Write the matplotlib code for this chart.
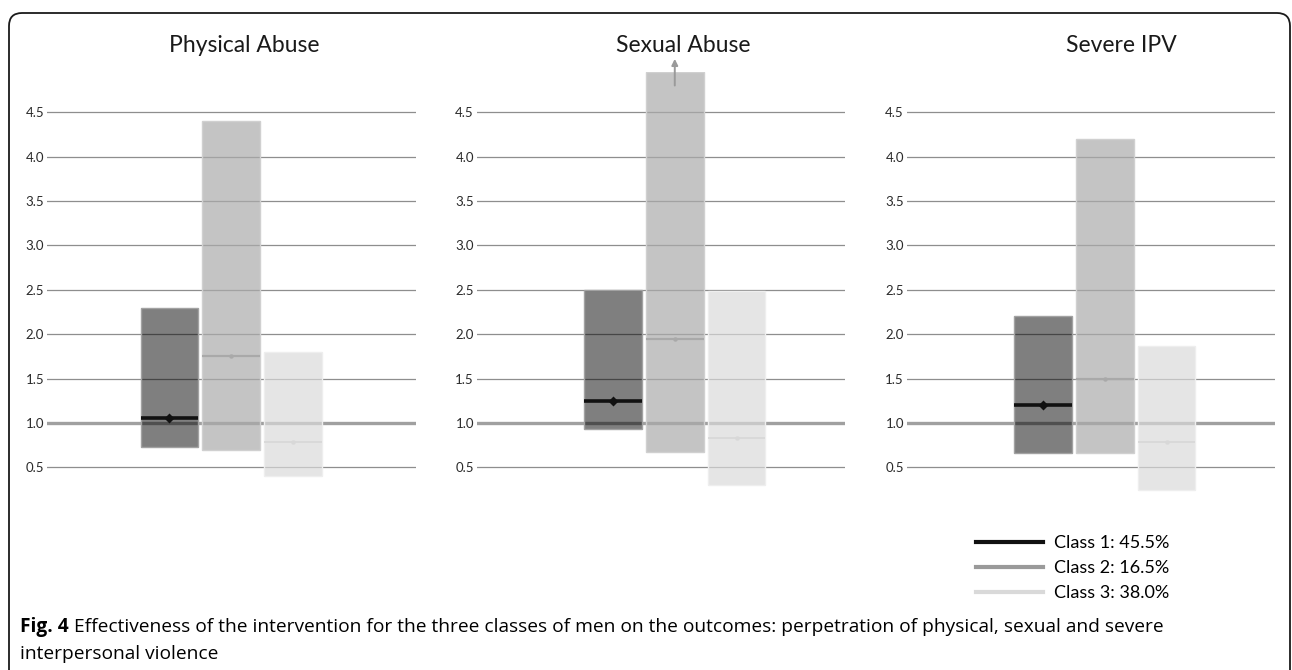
import matplotlib
matplotlib.use("Agg")
import matplotlib.pyplot as plt
from matplotlib.patches import FancyBboxPatch
from matplotlib.lines import Line2D

# ---- data -------------------------------------------------------------
outcomes = ["Physical Abuse", "Sexual Abuse", "Severe IPV"]
class_labels = ["Class 1: 45.5%", "Class 2: 16.5%", "Class 3: 38.0%"]

physical_est = [1.06, 1.75, 0.78]
physical_low = [0.73, 0.70, 0.40]
physical_high = [2.29, 4.40, 1.80]

sexual_est = [1.25, 1.95, 0.83]
sexual_low = [0.93, 0.67, 0.30]
sexual_high = [2.50, 4.95, 2.49]   # class 2 upper bound runs off the scale

severe_est = [1.20, 1.49, 0.78]
severe_low = [0.66, 0.66, 0.25]
severe_high = [2.20, 4.20, 1.87]

y_ticks = [0.5, 1.0, 1.5, 2.0, 2.5, 3.0, 3.5, 4.0, 4.5]
y_tick_labels = ["0.5", "1.0", "1.5", "2.0", "2.5", "3.0", "3.5", "4.0", "4.5"]
reference_value = 1.0

caption_bold = "Fig. 4"
caption_line1 = ("Effectiveness of the intervention for the three classes of men on the "
                 "outcomes: perpetration of physical, sexual and severe")
caption_line2 = "interpersonal violence"

# ---- styling ----------------------------------------------------------
W, H = 1292, 670
DPI = 100
FONT = "Lato"
CAP_FONT = "Open Sans"

bar_faces = [(0, 0, 0, 0.50), (0.67, 0.67, 0.67, 0.70), (0.855, 0.855, 0.855, 0.68)]
bar_edges = ["#a2a2a2", "#d0d0d0", "#eeeeee"]
est_colors = ["#111111", "#a9a9a9", "#d8d8d8"]
est_widths = [2.6, 1.6, 1.3]
est_markers = ["D", "o", "o"]
est_msizes = [5.5, 3.2, 3.2]
legend_colors = ["#111111", "#9a9a9a", "#d9d9d9"]

fig = plt.figure(figsize=(W / DPI, H / DPI), dpi=DPI)

def px_axes(x0, x1, ytop, ybot):
    return fig.add_axes([x0 / W, 1 - ybot / H, (x1 - x0) / W, (ybot - ytop) / H])

panels = [
    (physical_est, physical_low, physical_high, (47, 416), (-1.985, 3.995)),
    (sexual_est, sexual_low, sexual_high, (476.7, 845), (-2.2, 3.75)),
    (severe_est, severe_low, severe_high, (906.7, 1275), (-2.2, 3.75)),
]
title_x = [244, 683, 1121]

bar_w = 0.93
xs = [0, 1, 2]
for i, (est, low, high, (x0, x1), xl) in enumerate(panels):
    ax = px_axes(x0, x1, 72.2, 494)
    ax.set_xlim(*xl)
    ax.set_ylim(0.2, 4.95)
    for s in ax.spines.values():
        s.set_visible(False)
    ax.set_xticks([])
    ax.set_yticks(y_ticks, y_tick_labels)
    ax.tick_params(axis="y", length=0, pad=2, labelsize=9.5, labelcolor="#2a2a2a")
    for lab in ax.get_yticklabels():
        lab.set_fontfamily(FONT)
    ax.set_facecolor("none")
    for t in y_ticks:
        if t == reference_value:
            continue
        ax.axhline(t, color="#8e8e8e", lw=0.9, zorder=0.5)
    ax.axhline(reference_value, color="#a0a0a0", lw=2.4, zorder=1)

    heights = [h - l for h, l in zip(high, low)]
    for k in range(3):
        ax.bar(xs[k], heights[k], bottom=low[k], width=bar_w,
               color=bar_faces[k], edgecolor=bar_edges[k], linewidth=1.0, zorder=2)
        ax.plot([xs[k] - bar_w / 2, xs[k] + bar_w / 2], [est[k], est[k]],
                color=est_colors[k], lw=est_widths[k], solid_capstyle="butt", zorder=3)
        ax.plot(xs[k], est[k], marker=est_markers[k], ms=est_msizes[k],
                color=est_colors[k], mec="none", zorder=4)

    if i == 1:
        # interval extends past the top of the scale
        ax.annotate("", xy=(1, 5.10), xytext=(1, 4.80), annotation_clip=False,
                    arrowprops=dict(arrowstyle="-|>", color="#9a9a9a", lw=1.4,
                                    mutation_scale=9, shrinkA=0, shrinkB=0))

    fig.text(title_x[i] / W, 1 - 45 / H, outcomes[i], ha="center", va="center",
             fontsize=16.5, fontfamily=FONT, color="#1a1a1a")

# ---- legend -----------------------------------------------------------
handles = [Line2D([], [], color=c, lw=3.0) for c in legend_colors]
fig.legend(handles, class_labels, loc="upper left",
           bbox_to_anchor=(976 / W, 1 - 535 / H), frameon=False,
           borderpad=0, borderaxespad=0, handlelength=3.7, handletextpad=0.6,
           labelspacing=0.5, prop={"family": FONT, "size": 13})

# ---- frame around the figure -------------------------------------------
frame = FancyBboxPatch((9 / DPI, -0.4), (1290 - 9) / DPI, (H - 13) / DPI + 0.4,
                       boxstyle="round,pad=0,rounding_size=0.13",
                       transform=fig.dpi_scale_trans, fill=False,
                       edgecolor="#1a1a1a", lw=1.3)
fig.patches.append(frame)

# ---- caption ----------------------------------------------------------
renderer = fig.canvas.get_renderer()
cap_size = 13.8
t_bold = fig.text(20 / W, 1 - 627 / H, caption_bold, ha="left", va="center",
                  fontsize=cap_size, fontweight="bold", fontfamily=CAP_FONT)
bb = t_bold.get_window_extent(renderer)
t1 = fig.text((bb.x1 + 5) / W, 1 - 627 / H, caption_line1, ha="left", va="center",
              fontsize=cap_size, fontfamily=CAP_FONT)
fig.text(20 / W, 1 - 654 / H, caption_line2, ha="left", va="center",
         fontsize=cap_size, fontfamily=CAP_FONT)

fig.savefig("out.png", dpi=DPI)
